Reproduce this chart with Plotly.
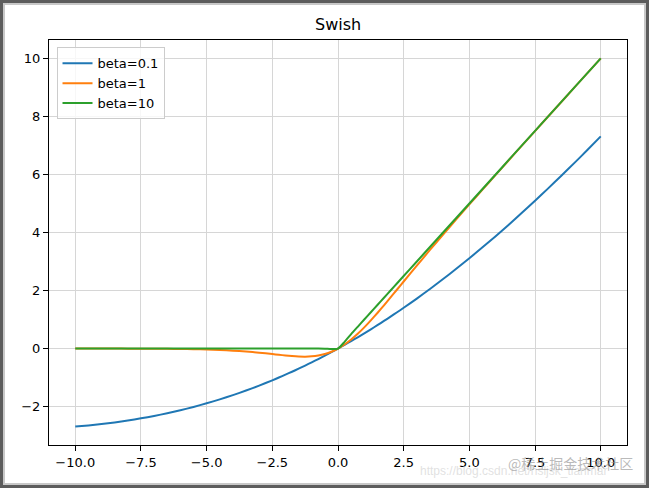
import plotly.graph_objects as go

x_vals = [-10, -9.5, -9, -8.5, -8, -7.5, -7, -6.5, -6, -5.5, -5, -4.5, -4, -3.5, -3, -2.5, -2.25, -2, -1.75, -1.5,
          -1.25, -1, -0.75, -0.5, -0.25,
          0, 0.25, 0.5, 0.75, 1, 1.25, 1.5, 1.75, 2, 2.25, 2.5, 3, 3.5, 4, 4.5, 5, 5.5, 6, 6.5, 7, 7.5, 8, 8.5,
          9, 9.5, 10]

beta_01 = [-2.689, -2.649, -2.602, -2.545, -2.480, -2.406, -2.323, -2.229, -2.126, -2.012, -1.888, -1.752, -1.605,
           -1.447, -1.277, -1.095, -0.999, -0.900, -0.799, -0.694, -0.586, -0.475, -0.361, -0.244, -0.123,
           0.0, 0.127, 0.256, 0.389, 0.525, 0.664, 0.806, 0.951, 1.100, 1.251, 1.405, 1.723, 2.053, 2.395, 2.748,
           3.112, 3.488, 3.874, 4.271, 4.677, 5.094, 5.520, 5.955, 6.398, 6.851, 7.311]

beta_1 = [-0.0005, -0.0007, -0.0011, -0.0017, -0.0027, -0.0042, -0.0064, -0.0098, -0.0148, -0.0224, -0.0335, -0.0495,
          -0.0719, -0.1026, -0.1423, -0.1896, -0.2144, -0.2384, -0.2590, -0.2736, -0.2784, -0.2689, -0.2406,
          -0.1888, -0.1095,
          0.0, 0.1406, 0.3112, 0.5094, 0.7311, 0.9716, 1.2264, 1.4910, 1.7616, 2.0356, 2.3104, 2.8577, 3.3974,
          3.9281, 4.4505, 4.9665, 5.4776, 5.9852, 6.4902, 6.9936, 7.4959, 7.9973, 8.4983, 8.9989, 9.4993, 9.9995]

beta_10 = [0, 0, 0, 0, 0, 0, 0, 0, 0, 0, 0, 0, 0, 0, 0, 0, 0, 0, 0, 0, 0, 0, -0.0004, -0.0033, -0.019,
           0.0, 0.231, 0.4967, 0.7496, 1.0, 1.25, 1.5, 1.75, 2.0, 2.25, 2.5, 3.0, 3.5, 4.0, 4.5, 5.0, 5.5, 6.0,
           6.5, 7.0, 7.5, 8.0, 8.5, 9.0, 9.5, 10.0]

series_names = ["beta=0.1", "beta=1", "beta=10"]
series_colors = ["#1f77b4", "#ff7f0e", "#2ca02c"]
x_ticks = [-10.0, -7.5, -5.0, -2.5, 0.0, 2.5, 5.0, 7.5, 10.0]
x_tick_text = ["\u221210.0", "\u22127.5", "\u22125.0", "\u22122.5", "0.0", "2.5", "5.0", "7.5", "10.0"]
y_ticks = [-2, 0, 2, 4, 6, 8, 10]
y_tick_text = ["\u22122", "0", "2", "4", "6", "8", "10"]
title_text = "Swish"
watermark_url = "https://blog.csdn.net/hsljsk_tianmar"
watermark_cn = "@稀土掘金技术社区"

W, H = 649, 488
L, R, T, B = 49, 627, 40, 445
pw, ph = R - L, B - T

fig = go.Figure()
for name, ys, col in zip(series_names, [beta_01, beta_1, beta_10], series_colors):
    fig.add_trace(go.Scatter(x=x_vals, y=ys, mode="lines", name=name,
                             line=dict(color=col, width=2, shape="spline", smoothing=0.6)))

font = "DejaVu Sans, Verdana, sans-serif"

axis_common = dict(showline=True, linecolor="black", linewidth=1, mirror=True,
                   ticks="outside", ticklen=5, tickwidth=1, tickcolor="black",
                   showgrid=True, gridcolor="#d6d6d6", gridwidth=0.8, zeroline=False,
                   tickfont=dict(family=font, size=13, color="black"))

fig.update_layout(
    width=W, height=H,
    margin=dict(l=L, r=W - R, t=T, b=H - B, pad=0),
    paper_bgcolor="white", plot_bgcolor="white",
    showlegend=True,
    legend=dict(x=0.013, y=0.982, xanchor="left", yanchor="top",
                bgcolor="rgba(255,255,255,0.8)", bordercolor="#cccccc", borderwidth=1,
                font=dict(family=font, size=13, color="black"), tracegroupgap=0),
    xaxis=dict(range=[-11, 11], tickvals=x_ticks, ticktext=x_tick_text, **axis_common),
    yaxis=dict(range=[-3.324, 10.634], tickvals=y_ticks, ticktext=y_tick_text, **axis_common),
)

fig.add_annotation(text=title_text, xref="paper", yref="paper", x=0.5, y=1, yshift=4,
                   xanchor="center", yanchor="bottom", showarrow=False,
                   font=dict(family=font, size=16, color="black"))

# watermark texts
fig.add_annotation(text=watermark_url, xref="paper", yref="paper",
                   x=(418 - L) / pw, y=-(471 - B) / ph, xanchor="left", yanchor="middle",
                   showarrow=False, font=dict(family="Liberation Sans, Arial, sans-serif", size=12,
                                              color="rgba(205,205,205,0.6)"))
fig.add_annotation(text=watermark_cn, xref="paper", yref="paper",
                   x=(635 - L) / pw, y=-(463 - B) / ph, xanchor="right", yanchor="middle",
                   showarrow=False, font=dict(family="Noto Sans CJK SC", size=14, color="rgba(140,140,140,0.6)"))

# screenshot frame
def px_x(p):
    return (p - L) / pw

def px_y(p):
    return 1 - (p - T) / ph

fig.add_shape(type="rect", xref="paper", yref="paper", x0=px_x(1.5), x1=px_x(W - 1.5), y0=px_y(1.5), y1=px_y(H - 1.5),
              line=dict(color="#5c5c5c", width=3), fillcolor="rgba(0,0,0,0)", layer="above")
fig.add_shape(type="rect", xref="paper", yref="paper", x0=px_x(4), x1=px_x(W - 4), y0=px_y(4), y1=px_y(H - 4),
              line=dict(color="#c8c8c8", width=2), fillcolor="rgba(0,0,0,0)", layer="above")

fig.write_html("out.html", config={"displayModeBar": False},
               post_script="document.body.style.margin='0';document.body.style.overflow='hidden';")
